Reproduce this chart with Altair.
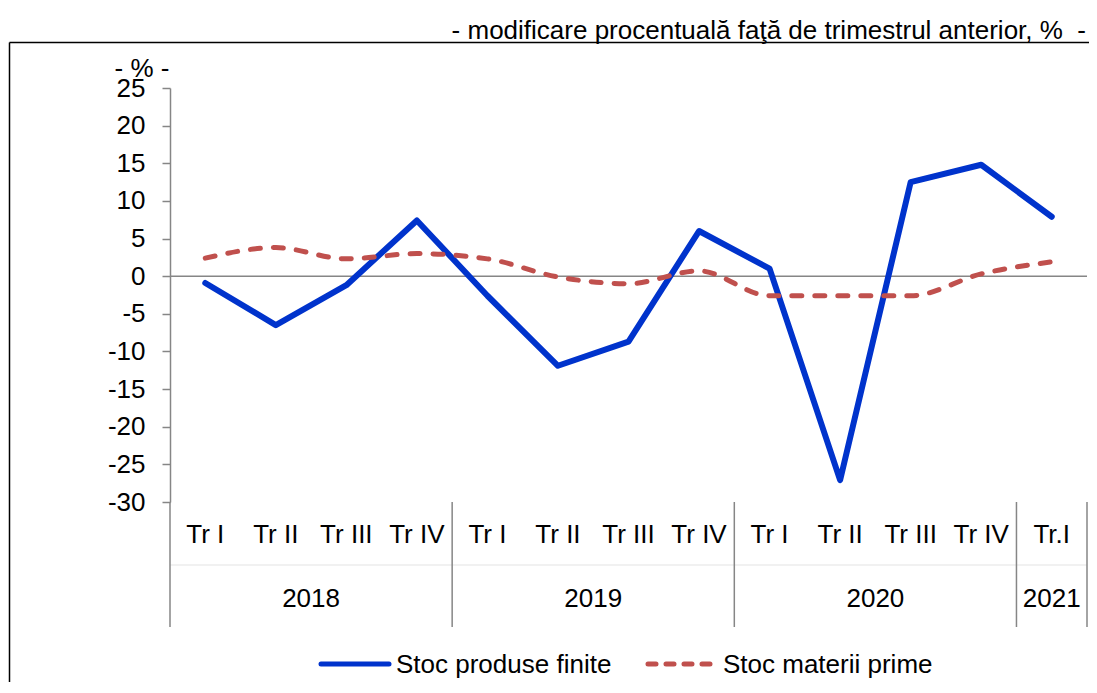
import altair as alt
import pandas as pd

# ---- data ----
quarters = ["Tr I", "Tr II", "Tr III", "Tr IV",
            "Tr I", "Tr II", "Tr III", "Tr IV",
            "Tr I", "Tr II", "Tr III", "Tr IV",
            "Tr.I"]
years = ["2018", "2019", "2020", "2021"]
year_quarters = [4, 4, 4, 1]
finite = [-0.9, -6.5, -1.2, 7.4, -2.6, -11.9, -8.7, 6.0, 1.0, -27.1, 12.5, 14.8, 7.9]
prime = [2.4, 3.8, 2.3, 3.0, 2.3, -0.1, -1.0, 0.7, -2.6, -2.6, -2.6, 0.3, 1.9]
series = ["Stoc produse finite", "Stoc materii prime"]
y_ticks = list(range(-30, 30, 5))
title_text = "- modificare procentuală faţă de trimestrul anterior, %\u00a0 -"
unit_text = "- % -"

# ---- styling ----
FONT = "Liberation Sans"
FS = 26
W, H = 917, 414
BLUE = "#0033CC"
RED = "#C0504D"
GRAY = "#868686"

n = len(quarters)
pos = [i + 0.5 for i in range(n)]
df_f = pd.DataFrame({"pos": pos, "value": finite, "series": series[0]})
df_p = pd.DataFrame({"pos": pos, "value": prime, "series": series[1]})
df_q = pd.DataFrame({"pos": pos, "label": quarters})

starts, centers = [], []
s = 0
for k in year_quarters:
    starts.append(s)
    centers.append(s + k / 2)
    s += k
df_y = pd.DataFrame({"pos": centers, "label": years})
df_div = pd.DataFrame({"x": starts + [s]})

xs = alt.Scale(domain=[0, n], nice=False, zero=False)
ys = alt.Scale(domain=[min(y_ticks), max(y_ticks)], nice=False, zero=False)

yaxis = alt.Axis(values=y_ticks, tickSize=8, tickColor=GRAY, tickWidth=1.5,
                 domainColor=GRAY, domainWidth=1.5, labelFontSize=FS,
                 labelFont=FONT, labelColor="black", labelPadding=17,
                 grid=False, title=None, labelOverlap=False,
                 labelExpr="'' + datum.value")

zero = alt.Chart(pd.DataFrame({"y": [0]})).mark_rule(color=GRAY, strokeWidth=1.5).encode(
    y=alt.Y("y:Q", scale=ys, axis=yaxis))

dividers = alt.Chart(df_div).mark_rule(color=GRAY, strokeWidth=1.5).encode(
    x=alt.X("x:Q", scale=xs, axis=None), y=alt.value(H), y2=alt.value(539))

sep = alt.Chart(pd.DataFrame({"a": [0]})).mark_rule(color="#e3e3e3", strokeWidth=1).encode(
    x=alt.value(0), x2=alt.value(W), y=alt.value(477))

line_f = alt.Chart(df_f).mark_line(color=BLUE, strokeWidth=6, strokeCap="round",
                                   strokeJoin="round").encode(
    x=alt.X("pos:Q", scale=xs, axis=None),
    y=alt.Y("value:Q", scale=ys, axis=yaxis))

line_p = alt.Chart(df_p).mark_line(color=RED, strokeWidth=5, strokeDash=[10, 13],
                                   strokeCap="round", interpolate="monotone").encode(
    x=alt.X("pos:Q", scale=xs, axis=None),
    y=alt.Y("value:Q", scale=ys, axis=yaxis))

qlabels = alt.Chart(df_q).mark_text(font=FONT, fontSize=FS, baseline="alphabetic",
                                    align="center", color="black").encode(
    x=alt.X("pos:Q", scale=xs, axis=None), y=alt.value(455), text="label:N")

ylabels = alt.Chart(df_y).mark_text(font=FONT, fontSize=FS, baseline="alphabetic",
                                    align="center", color="black").encode(
    x=alt.X("pos:Q", scale=xs, axis=None), y=alt.value(519), text="label:N")

title = alt.Chart(pd.DataFrame({"t": [title_text]})).mark_text(
    font=FONT, fontSize=FS, align="right", baseline="alphabetic", color="black").encode(
    x=alt.value(916), y=alt.value(-49), text="t:N")

unit = alt.Chart(pd.DataFrame({"t": [unit_text]})).mark_text(
    font=FONT, fontSize=FS, align="center", baseline="alphabetic", color="black").encode(
    x=alt.value(-28), y=alt.value(-11), text="t:N")

frame_top = alt.Chart(pd.DataFrame({"a": [0]})).mark_rule(color="black", strokeWidth=1.5).encode(
    x=alt.value(-160.5), x2=alt.value(935), y=alt.value(-45.5))
frame_left = alt.Chart(pd.DataFrame({"a": [0]})).mark_rule(color="black", strokeWidth=1.5).encode(
    x=alt.value(-160.5), y=alt.value(-45.5), y2=alt.value(620))

# legend (manual)
leg_f_line = alt.Chart(pd.DataFrame({"s": [series[0]]})).mark_rule(
    color=BLUE, strokeWidth=5, strokeCap="round").encode(
    x=alt.value(151), x2=alt.value(219), y=alt.value(576))
leg_f_text = alt.Chart(pd.DataFrame({"s": [series[0]]})).mark_text(
    font=FONT, fontSize=FS, align="left", baseline="alphabetic", color="black").encode(
    x=alt.value(226), y=alt.value(585), text="s:N")
leg_p_line = alt.Chart(pd.DataFrame({"s": [series[1]]})).mark_rule(
    color=RED, strokeWidth=5, strokeCap="round", strokeDash=[8, 10]).encode(
    x=alt.value(478), x2=alt.value(545), y=alt.value(576))
leg_p_text = alt.Chart(pd.DataFrame({"s": [series[1]]})).mark_text(
    font=FONT, fontSize=FS, align="left", baseline="alphabetic", color="black").encode(
    x=alt.value(553), y=alt.value(585), text="s:N")

chart = alt.layer(
    frame_top, frame_left, sep, zero, dividers, line_f, line_p,
    qlabels, ylabels, title, unit,
    leg_f_line, leg_f_text, leg_p_line, leg_p_text
).properties(
    width=W, height=H,
    background="white",
    autosize=alt.AutoSizeParams(type="none"),
    padding={"left": 162, "top": 80, "right": 2, "bottom": 180},
).configure_view(stroke=None)

chart.save("out.html", embed_options={"renderer": "svg", "actions": False})
